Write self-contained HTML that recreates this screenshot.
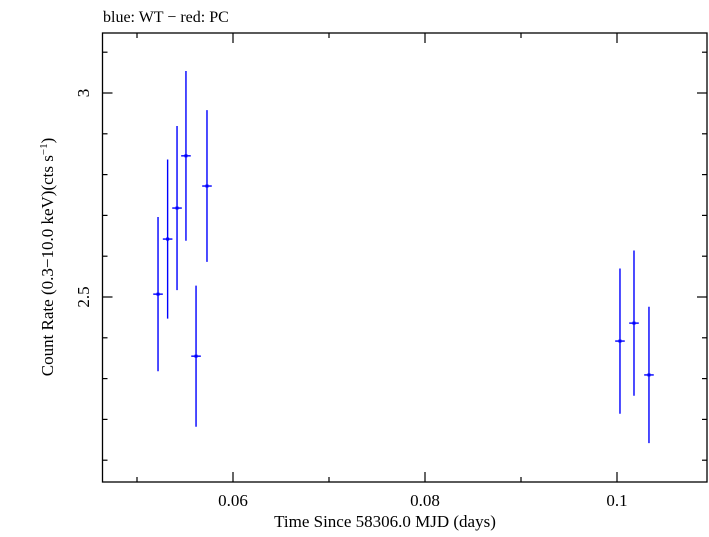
<!DOCTYPE html>
<html><head><meta charset="utf-8"><style>
body{margin:0;background:#fff}
svg text{font-family:"Liberation Serif",serif;fill:#000}
</style></head><body>
<svg width="709" height="532" viewBox="0 0 709 532">
<text x="103" y="22" font-size="16">blue: WT − red: PC</text>
<rect x="102.5" y="33" width="604.5" height="449" fill="none" stroke="#000" stroke-width="1.3"/>
<g id="axes"></g>
<g id="marks"></g>
<text x="385" y="527" font-size="17" text-anchor="middle">Time Since 58306.0 MJD (days)</text>
<text transform="translate(53,257) rotate(-90)" font-size="17" text-anchor="middle">Count Rate (0.3−10.0 keV)(cts s<tspan font-size="11" dy="-6">−1</tspan><tspan dy="6">)</tspan></text>
</svg>
<script>
const times=[0.05219,0.05319,0.05417,0.05510,0.05615,0.05729,0.10031,0.10177,0.10333];
const rates=[2.507,2.642,2.718,2.846,2.355,2.772,2.392,2.436,2.309];
const rateErr=[0.189,0.195,0.201,0.208,0.173,0.186,0.178,0.178,0.167];
const timeErr=[0.0005,0.0005,0.0005,0.0005,0.0005,0.0005,0.0005,0.0005,0.0005];
const xTicks=[0.06,0.08,0.1];
const xTickLabels=["0.06","0.08","0.1"];
const xMinor=[0.05,0.07,0.09];
const yTicks=[2.5,3];
const yTickLabels=["2.5","3"];
const yMinor=[2.1,2.2,2.3,2.4,2.6,2.7,2.8,2.9,3.1];
const NS='http://www.w3.org/2000/svg';
const L=102.5,R=707,T=33,B=482;
function X(v){return 233+(v-0.06)*9600;}
function Y(v){return 93+(3-v)*408;}
function mk(tag,attrs,parent){const e=document.createElementNS(NS,tag);for(const k in attrs)e.setAttribute(k,attrs[k]);parent.appendChild(e);return e;}
const ax=document.getElementById('axes');
xTicks.forEach((v,i)=>{
 const l1=mk('line',{x1:X(v),x2:X(v),y1:B,y2:B-10,stroke:'#000','stroke-width':1.2},ax);
 
 
 const l2=mk('line',{x1:X(v),x2:X(v),y1:T,y2:T+10,stroke:'#000','stroke-width':1.2},ax);
 
 
 const t=mk('text',{x:X(v),y:506,'font-size':17,'text-anchor':'middle'},ax);t.textContent=xTickLabels[i];
 
 
});
xMinor.forEach(v=>{
 const l1=mk('line',{x1:X(v),x2:X(v),y1:B,y2:B-5,stroke:'#000','stroke-width':1.2},ax);
 
 
 const l2=mk('line',{x1:X(v),x2:X(v),y1:T,y2:T+5,stroke:'#000','stroke-width':1.2},ax);
 
 
});
yTicks.forEach((v,i)=>{
 const l1=mk('line',{x1:L,x2:L+10,y1:Y(v),y2:Y(v),stroke:'#000','stroke-width':1.2},ax);
 
 
 const l2=mk('line',{x1:R,x2:R-10,y1:Y(v),y2:Y(v),stroke:'#000','stroke-width':1.2},ax);
 
 
 const t=mk('text',{transform:`translate(89,${Y(v)}) rotate(-90)`,'font-size':17,'text-anchor':'middle'},ax);t.textContent=yTickLabels[i];
 
 
});
yMinor.forEach(v=>{
 if(Y(v)<T||Y(v)>B)return;
 const l1=mk('line',{x1:L,x2:L+5,y1:Y(v),y2:Y(v),stroke:'#000','stroke-width':1.2},ax);
 
 
 const l2=mk('line',{x1:R,x2:R-5,y1:Y(v),y2:Y(v),stroke:'#000','stroke-width':1.2},ax);
 
 
});
const mg=document.getElementById('marks');
times.forEach((t,i)=>{
 const g=mk('g',{stroke:'#0000ff','stroke-width':1.4},mg);
 
 
 mk('line',{x1:X(t),x2:X(t),y1:Y(rates[i]-rateErr[i]),y2:Y(rates[i]+rateErr[i])},g);
 mk('line',{x1:X(t-timeErr[i]),x2:X(t+timeErr[i]),y1:Y(rates[i]),y2:Y(rates[i])},g);
 mk('rect',{x:X(t)-1.5,y:Y(rates[i])-1.5,width:3,height:3,fill:'#0000ff',stroke:'none'},g);
});
</script>
</body></html>
